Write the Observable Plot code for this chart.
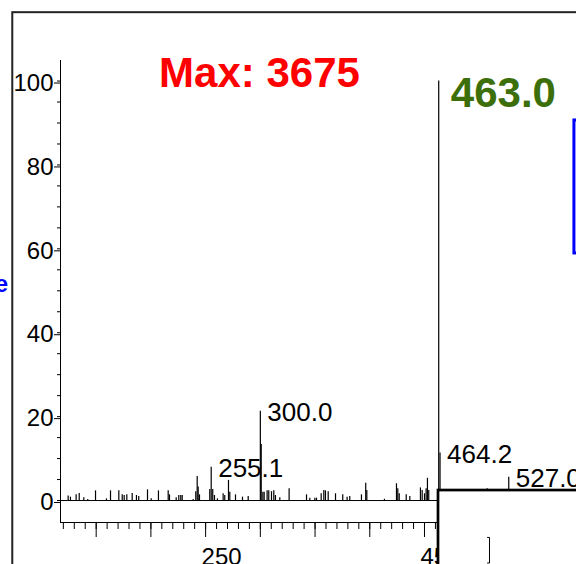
<!DOCTYPE html>
<html>
<head>
<meta charset="utf-8">
<script src="https://cdn.jsdelivr.net/npm/d3@7"></script>
<script src="https://cdn.jsdelivr.net/npm/@observablehq/plot@0.6"></script>
<style>
  html, body { margin: 0; padding: 0; background: #fff; overflow: hidden; }
  #chart { width: 576px; height: 564px; }
</style>
</head>
<body>
<div id="chart"></div>
<script>
// Centroided peaks: m/z and relative intensity (% of base peak)
const mz = [
  124.4, 126.5, 131.7, 134.5, 138.7, 142.3, 149.4, 159.4, 163.1, 170.7,
  173.8, 175.6, 178.0, 182.9, 186.8, 188.9, 196.9, 200.3, 206.9, 215.8,
  217.0, 223.1, 225.5, 227.3, 228.6, 238.6, 241.0, 242.3, 243.2, 244.4,
  253.8, 255.1, 256.5, 258.1, 260.8, 266.0, 267.5, 270.9, 272.1, 277.3,
  283.7, 288.9, 300.0, 300.8, 302.3, 303.5, 306.2, 307.7, 310.2, 312.3,
  313.8, 317.8, 326.3, 342.2, 345.2, 349.8, 351.3, 355.6, 358.0, 359.5,
  362.0, 368.7, 375.3, 379.3, 381.7, 392.4, 396.3, 397.3, 413.4, 424.4,
  425.6, 426.9, 433.3, 436.6, 446.3, 447.9, 450.0, 451.5, 452.7, 453.9,
  463.0, 464.2, 507.3, 527.0
];
const intensity = [
  1.1, 0.8, 1.35, 1.7, 0.65, 0.25, 2.3, 0.4, 2.3, 2.3,
  1.35, 1.2, 1.35, 1.7, 1.2, 0.95, 2.55, 0.4, 2.3, 2.3,
  1.35, 0.65, 1.2, 1.2, 1.2, 0.25, 2.1, 5.7, 3.2, 1.35,
  2.6, 7.95, 2.6, 1.2, 0.4, 1.6, 1.2, 4.8, 2.0, 1.35,
  0.8, 0.95, 21.3, 13.35, 2.0, 2.0, 2.3, 2.3, 2.1, 2.3,
  1.2, 0.65, 2.8, 1.35, 0.55, 0.55, 0.55, 1.6, 2.4, 2.3,
  2.1, 1.6, 1.35, 0.8, 0.95, 1.35, 4.1, 2.4, 0.3, 4.0,
  2.8, 1.6, 1.35, 0.95, 3.0, 2.4, 1.6, 2.8, 5.3, 2.4,
  100, 11.3, 2.8, 5.55
];
const labeledMz = [255.1, 300.0, 464.2, 527.0];
const basePeakMz = 463.0;
const maxCount = 3675;
const xLabelTicks = [250, 450];
const xMajorTicks = [150, 200, 250, 300, 350, 400, 450];
const xMinorTicks = d3.range(120, 461, 10);
const yLabelTicks = [0, 20, 40, 60, 80, 100];
const yMinorTicks = d3.range(0, 101, 5);

const peaks = mz.map((m, i) => ({mz: m, rel: intensity[i]}));
const relOf = m => intensity[mz.indexOf(m)];

const xDomain = [117.4, 588.9];
const yDomain = [-5.24, 104.9];
const font = "'Liberation Sans', Arial, Helvetica, sans-serif";

const chart = Plot.plot({
  width: 576,
  height: 564,
  marginLeft: 60,
  marginRight: 0,
  marginTop: 60,
  marginBottom: 42,
  style: {fontFamily: font, color: "#000", background: "transparent"},
  x: {domain: xDomain},
  y: {domain: yDomain},
  marks: [
    // outer figure frame
    Plot.rect([0], {x1: 73.8, x2: 700, y1: -40, y2: 116.3, fill: "none", stroke: "#222", strokeWidth: 2}),
    // y axis: line, minor and major ticks, labels
    Plot.ruleX([xDomain[0]], {stroke: "#000", strokeWidth: 1}),
    Plot.axisY(yMinorTicks, {tickSize: 3, text: null, label: null}),
    Plot.axisY(yLabelTicks, {tickSize: 6, tickPadding: 1, fontSize: 24, dy: 2, label: null}),
    // x axis: line, minor and major ticks, labels
    Plot.ruleY([yDomain[0]], {x1: xDomain[0], x2: basePeakMz, stroke: "#000", strokeWidth: 1}),
    Plot.axisX(xMinorTicks, {tickSize: 7, text: null, label: null}),
    Plot.axisX(xMajorTicks, {tickSize: 15, text: null, label: null}),
    Plot.axisX(xLabelTicks, {tickSize: 0, tickPadding: 25, fontSize: 24, dx: 16, label: null}),
    // spectrum baseline and sticks
    Plot.ruleY([0], {stroke: "#000", strokeWidth: 1}),
    Plot.ruleX(peaks, {x: "mz", y1: 0, y2: "rel", stroke: "#000", strokeWidth: 1.2}),
    // peak annotations
    Plot.text(labeledMz, {
      x: d => d, y: d => relOf(d), text: d => d.toFixed(1),
      textAnchor: "start", dx: 7, dy: 1.5, fontSize: 26, fill: "#000"
    }),
    Plot.text([maxCount], {
      x: 299.2, y: 101.8, text: d => `Max: ${d}`,
      fill: "#ff0000", fontSize: 42, fontWeight: "bold"
    }),
    Plot.text([basePeakMz], {
      x: 522.1, y: 96.95, text: d => d.toFixed(1),
      fill: "#3c6e0a", fontSize: 42, fontWeight: "bold"
    }),
    // neighbouring panel overlapping the lower right corner
    Plot.rect([0], {x1: basePeakMz - 0.2, x2: 700, y1: -40, y2: 2.38, fill: "#fff", stroke: "#000", strokeWidth: 2.7}),
    Plot.line([[507.6, -8.8], [509.4, -8.8], [509.4, -14.9], [507.6, -14.9]], {stroke: "#000", strokeWidth: 1}),
    // blue box at the right edge
    Plot.rect([0], {x1: 587.0, x2: 700, y1: 58.9, y2: 90.6, fill: "none", stroke: "#0000ff", strokeWidth: 3}),
    // axis title fragment at the left edge
    Plot.text(["e"], {x: 69.6, y: 51.65, textAnchor: "end", fill: "#0000ff", fontSize: 24, fontWeight: "bold"})
  ]
});
document.getElementById("chart").appendChild(chart);
</script>
</body>
</html>
